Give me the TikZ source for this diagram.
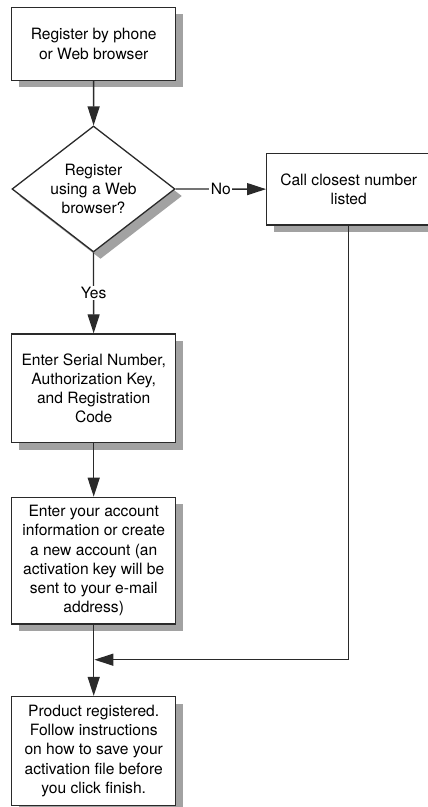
\documentclass[tikz,border=0pt]{standalone}
\usepackage{fontspec}
\setmainfont{TeX Gyre Heros}
\usetikzlibrary{shapes.geometric,arrows.meta,shadows}
\definecolor{shadowgray}{HTML}{A2A2A2}
\definecolor{linegray}{HTML}{2A2A2A}
\begin{document}
\begin{tikzpicture}[x=1pt,y=-1pt,
  every node/.style={font=\fontsize{15.6}{19.3}\selectfont, text=black},
  boxshadow/.style={general shadow={shadow xshift=7pt, shadow yshift=-7pt, fill=shadowgray, draw=none}},
  procbox/.style={draw=linegray, line width=1.3pt, fill=white, rectangle, minimum width=164pt, inner sep=0pt, align=center, boxshadow},
  decbox/.style={draw=linegray, line width=1.3pt, fill=white, diamond, aspect=1.29, minimum width=163pt, minimum height=126pt, inner sep=0pt, align=center, boxshadow},
  conn/.style={draw=linegray, line width=1.3pt, -{Triangle[length=19pt,width=12pt]}},
  plainconn/.style={draw=linegray, line width=1.3pt},
  lbl/.style={fill=white, inner sep=1.5pt}
]
\useasboundingbox (0,0) rectangle (428,807);
\node[procbox, minimum height=73pt] (reg) at (93.7,43.8) {Register by phone\\or Web browser};
\node[decbox] (web) at (93.5,189) {Register\\using a Web\\browser?};
\node[procbox, minimum height=71.7pt] (call) at (348.7,189.2) {Call closest number\\listed};
\node[procbox, minimum height=108.7pt] (serial) at (93.7,388.3) {Enter Serial Number,\\Authorization Key,\\and Registration\\Code};
\node[procbox, minimum height=126.7pt] (acct) at (93.7,560.7) {Enter your account\\information or create\\a new account (an\\activation key will be\\sent to your e-mail\\address)};
\node[procbox, minimum height=108.7pt] (done) at (93.7,750.9) {Product registered.\\Follow instructions\\on how to save your\\activation file before\\you click finish.};
\coordinate (merge) at (93.7,659.7);
\coordinate (corner) at (348.3,659.7);

\draw[conn] (reg) -- (web);
\draw[conn] (web) -- node[lbl] {No} (call);
\draw[conn] (web) -- node[lbl] {Yes} (serial);
\draw[conn] (serial) -- (acct);
\draw[plainconn] (acct) -- (merge);
\draw[conn] (merge) -- (done);
\draw[conn] (call.south -| corner) -- (corner) -- ([xshift=0.7pt]merge);
\end{tikzpicture}
\end{document}
